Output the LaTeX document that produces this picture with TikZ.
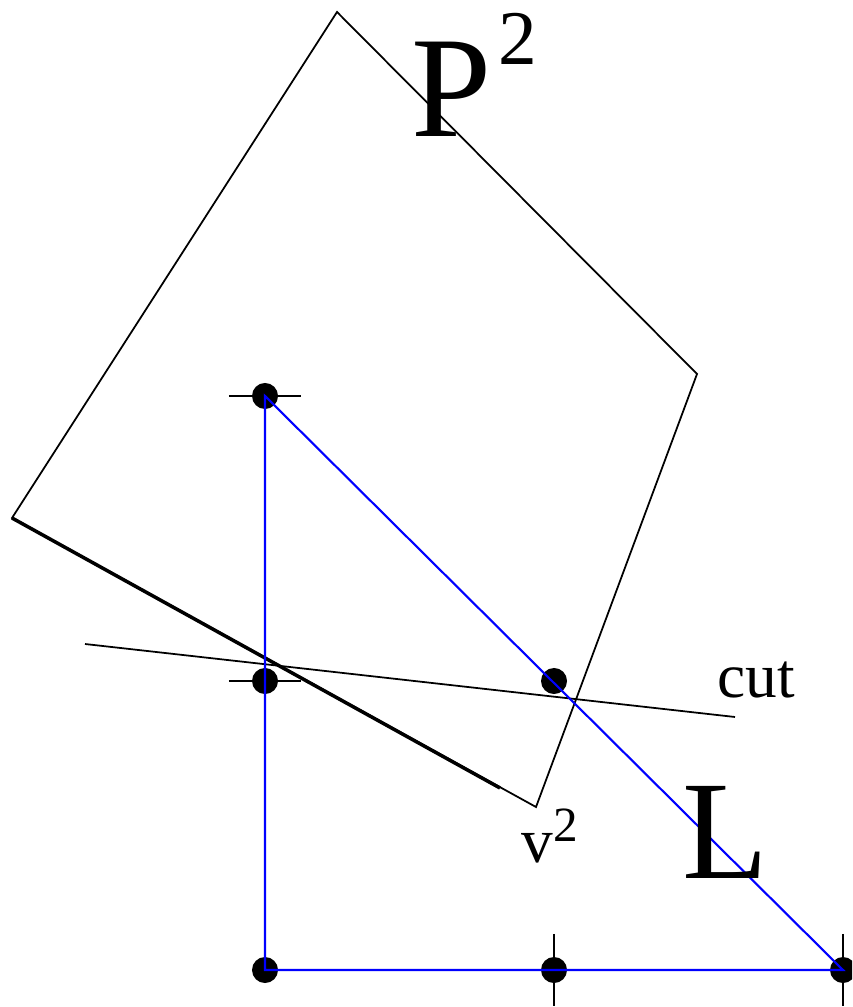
\documentclass[tikz,border=0pt]{standalone}
\usepackage{fontspec}
\newfontfamily\labelfont{LiberationSerif}[Extension=.ttf, UprightFont=*-Regular]
\usetikzlibrary{positioning}

\begin{document}
\begin{tikzpicture}[
  x=0.01cm, y=-0.01cm,
  dot/.style={circle, fill=black, inner sep=0pt, minimum size=0.26cm},
  edge/.style={line width=0.5pt},
  tri/.style={draw=blue, line width=0.6pt},
  lbl/.style={anchor=base west, inner sep=0pt, font=\labelfont}
]
  \clip (0,0) rectangle (852,1007);
  \useasboundingbox (0,0) rectangle (852,1007);

  \coordinate (qt) at (337,12);
  \coordinate (qr) at (697,374);
  \coordinate (qb) at (536,807);
  \coordinate (ql) at (12,518);
  \coordinate (qm) at (500,788);
  \coordinate (c1) at (85,644);
  \coordinate (c2) at (735,717);

  \node[dot] (d1) at (265,396) {};
  \node[dot] (d2) at (265,681) {};
  \node[dot] (d3) at (554,681) {};
  \node[dot] (d4) at (265,970) {};
  \node[dot] (d5) at (554,970) {};
  \node[dot] (d6) at (843,970) {};

  \draw[edge] ([xshift=-0.36cm]d1.center) -- ([xshift=0.36cm]d1.center);
  \draw[edge] ([xshift=-0.36cm]d2.center) -- ([xshift=0.36cm]d2.center);
  \draw[edge] ([yshift=0.36cm]d5.center) -- ([yshift=-0.36cm]d5.center);
  \draw[edge] ([yshift=0.36cm]d6.center) -- ([yshift=-0.36cm]d6.center);

  \draw[edge] (qt) -- (qr) -- (qb) -- (ql) -- cycle;
  \draw[line width=1pt] (ql) -- (qm);
  \draw[edge] (c1) -- (c2);

  \draw[tri] (d1.center) -- (d4.center) -- (d6.center) -- cycle;

  \node[lbl] (p2) at (411,137) {\fontsize{41}{41}\selectfont P\hspace{2pt}\raisebox{20.5pt}{\fontsize{22}{22}\selectfont 2}};
  \node[lbl] (cut) at (717,697) {\fontsize{18}{18}\selectfont cut};
  \node[lbl] (v2) at (521,862) {\fontsize{18}{18}\selectfont v\raisebox{5.7pt}{\fontsize{14}{14}\selectfont 2}};
  \node[lbl] (ll) at (682,878) {\fontsize{40}{40}\selectfont L};
\end{tikzpicture}
\end{document}
